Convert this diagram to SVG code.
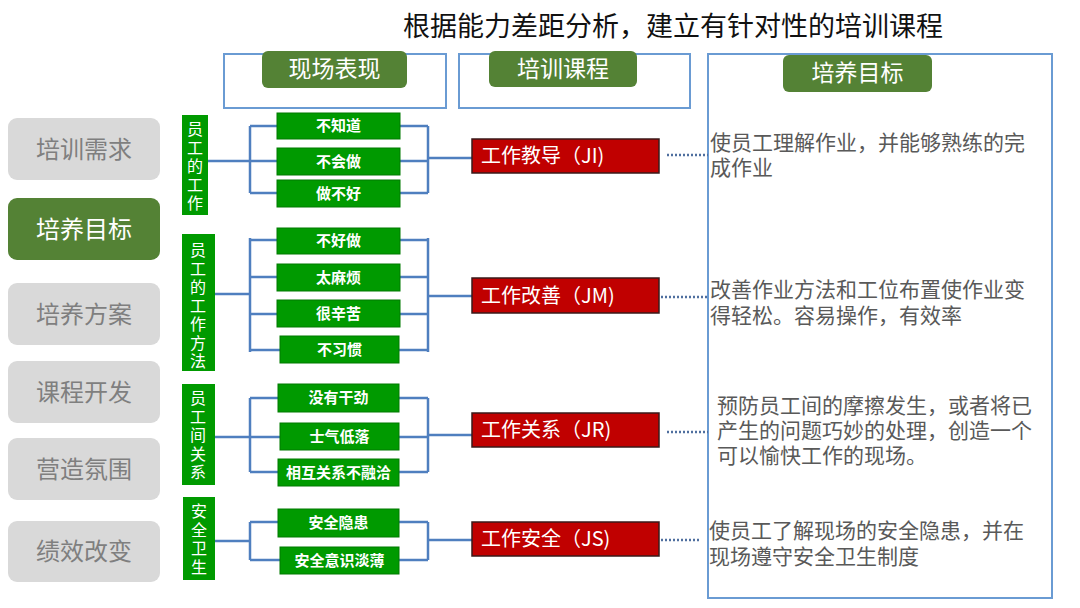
<svg xmlns="http://www.w3.org/2000/svg" width="1080" height="608" viewBox="0 0 1080 608">
<style>
text{font-family:"Noto Sans CJK SC","Liberation Sans",sans-serif}
.menu{fill:#d9d9d9}
.menut{fill:#7f7f7f;font-size:24px;text-anchor:middle}
.frame{fill:none;stroke:#6a9bd3;stroke-width:2}
.hdr{fill:#548235}
.hdrt{fill:#fff;font-size:23px;text-anchor:middle}
.vbox{fill:#009a00}
.vt{fill:#fff;font-size:16px;writing-mode:vertical-rl;text-orientation:upright;letter-spacing:2.5px}
.item{fill:#009a00;stroke:#007a00;stroke-width:1}
.itemt{fill:#fff;font-size:15px;font-weight:bold;text-anchor:middle}
.red{fill:#c00000;stroke:#3a1a1a;stroke-width:1.5}
.redt{fill:#fff;font-size:20px}
.br{fill:none;stroke:#4f7fbf;stroke-width:2.5}
.dot{fill:none;stroke:#4f6f9f;stroke-width:2.5;stroke-dasharray:2 2}
.desc{fill:#595959;font-size:21px}
</style>
<rect width="1080" height="608" fill="#fff"/>
<text x="673" y="36" font-size="27" text-anchor="middle" fill="#111">根据能力差距分析，建立有针对性的培训课程</text>

<g id="menu">
<g id="m1"><rect class="menu" x="8" y="118" width="152" height="62" rx="9"/><text class="menut" x="84" y="158">培训需求</text></g>
<g id="m2"><rect x="8" y="198" width="152" height="62" rx="9" fill="#548235"/><text class="menut" x="84" y="238" style="fill:#fff">培养目标</text></g>
<g id="m3"><rect class="menu" x="8" y="283" width="152" height="62" rx="9"/><text class="menut" x="84" y="323">培养方案</text></g>
<g id="m4"><rect class="menu" x="8" y="361" width="152" height="62" rx="9"/><text class="menut" x="84" y="401">课程开发</text></g>
<g id="m5"><rect class="menu" x="8" y="438" width="152" height="62" rx="9"/><text class="menut" x="84" y="478">营造氛围</text></g>
<g id="m6"><rect class="menu" x="8" y="521" width="152" height="61" rx="9"/><text class="menut" x="84" y="560">绩效改变</text></g>
</g>

<g id="headers">
<rect class="frame" x="224" y="54" width="222" height="54"/>
<rect class="frame" x="459" y="54" width="231" height="54"/>
<rect class="frame" x="708" y="54" width="344" height="544"/>
<g id="h1"><rect class="hdr" x="262" y="51" width="145" height="37" rx="6"/><text class="hdrt" x="334.5" y="77">现场表现</text></g>
<g id="h2"><rect class="hdr" x="489" y="51" width="148" height="36" rx="6"/><text class="hdrt" x="563" y="77">培训课程</text></g>
<g id="h3"><rect class="hdr" x="783" y="55" width="149" height="37" rx="6"/><text class="hdrt" x="857.5" y="81">培养目标</text></g>
</g>

<g id="connectors">
<path class="br" d="M208 161H250M250 126V193M250 126H277M250 161H277M250 193H277"/>
<path class="br" d="M400 126H428M400 161H428M400 193H428M428 126V193M428 158H473"/>
<path class="dot" d="M667 155H708"/>
<path class="br" d="M215 294H250M250 238V352M250 240H277M250 277H277M250 314H277M250 350H280"/>
<path class="br" d="M400 240H428M400 277H428M400 314H428M399 350H428M428 238V352M428 296H473"/>
<path class="dot" d="M661 297H708"/>
<path class="br" d="M215 437H250M250 398V472M250 398H278M250 437H280M250 472H278"/>
<path class="br" d="M399 398H428M399 437H428M399 472H428M428 398V472M428 435H473"/>
<path class="dot" d="M667 432H708"/>
<path class="br" d="M215 541H250M250 522V560M250 522H278M250 560H280"/>
<path class="br" d="M399 522H428M399 560H428M428 522V560M428 540H473"/>
<path class="dot" d="M661 540H700"/>
</g>

<g id="g1">
<rect class="vbox" x="182" y="115" width="26" height="100"/>
<text class="vt" x="195" y="121">员工的工作</text>
<rect class="item" x="277" y="113" width="123" height="26"/><text class="itemt" x="338.5" y="131">不知道</text>
<rect class="item" x="277" y="148" width="123" height="27"/><text class="itemt" x="338.5" y="167">不会做</text>
<rect class="item" x="277" y="180" width="123" height="27"/><text class="itemt" x="338.5" y="199">做不好</text>
</g>

<g id="g2">
<rect class="vbox" x="182" y="234" width="33" height="137"/>
<text class="vt" x="198" y="242">员工的工作方法</text>
<rect class="item" x="277" y="228" width="123" height="26"/><text class="itemt" x="338.5" y="246">不好做</text>
<rect class="item" x="277" y="264" width="123" height="27"/><text class="itemt" x="338.5" y="283">太麻烦</text>
<rect class="item" x="277" y="300" width="123" height="27"/><text class="itemt" x="338.5" y="319">很辛苦</text>
<rect class="item" x="280" y="336" width="119" height="27"/><text class="itemt" x="339.5" y="355">不习惯</text>
</g>

<g id="g3">
<rect class="vbox" x="182" y="384" width="33" height="101"/>
<text class="vt" x="198" y="390">员工间关系</text>
<rect class="item" x="278" y="384" width="121" height="28"/><text class="itemt" x="338.5" y="403">没有干劲</text>
<rect class="item" x="280" y="423" width="119" height="27"/><text class="itemt" x="339.5" y="442">士气低落</text>
<rect class="item" x="278" y="459" width="121" height="27"/><text class="itemt" x="338.5" y="478">相互关系不融洽</text>
</g>

<g id="g4">
<rect class="vbox" x="183" y="497" width="32" height="83"/>
<text class="vt" x="199" y="503">安全卫生</text>
<rect class="item" x="278" y="509" width="121" height="28"/><text class="itemt" x="338.5" y="528">安全隐患</text>
<rect class="item" x="280" y="547" width="119" height="27"/><text class="itemt" x="339.5" y="566">安全意识淡薄</text>
</g>

<g id="c1"><rect class="red" x="472" y="139" width="187" height="34"/><text class="redt" x="481" y="163">工作教导（JI)</text></g>
<g id="c2"><rect class="red" x="472" y="278" width="187" height="35"/><text class="redt" x="481" y="303">工作改善（JM)</text></g>
<g id="c3"><rect class="red" x="472" y="413" width="187" height="34"/><text class="redt" x="481" y="437">工作关系（JR)</text></g>
<g id="c4"><rect class="red" x="472" y="522" width="187" height="34"/><text class="redt" x="481" y="546">工作安全（JS)</text></g>

<g id="d1"><text class="desc"><tspan x="710" y="150">使员工理解作业，并能够熟练的完</tspan><tspan x="710" y="175">成作业</tspan></text></g>
<g id="d2"><text class="desc"><tspan x="710" y="297">改善作业方法和工位布置使作业变</tspan><tspan x="710" y="323">得轻松。容易操作，有效率</tspan></text></g>
<g id="d3"><text class="desc"><tspan x="717" y="413">预防员工间的摩擦发生，或者将已</tspan><tspan x="717" y="438">产生的问题巧妙的处理，创造一个</tspan><tspan x="717" y="463">可以愉快工作的现场。</tspan></text></g>
<g id="d4"><text class="desc"><tspan x="709" y="538">使员工了解现场的安全隐患，并在</tspan><tspan x="709" y="564">现场遵守安全卫生制度</tspan></text></g>
</svg>
